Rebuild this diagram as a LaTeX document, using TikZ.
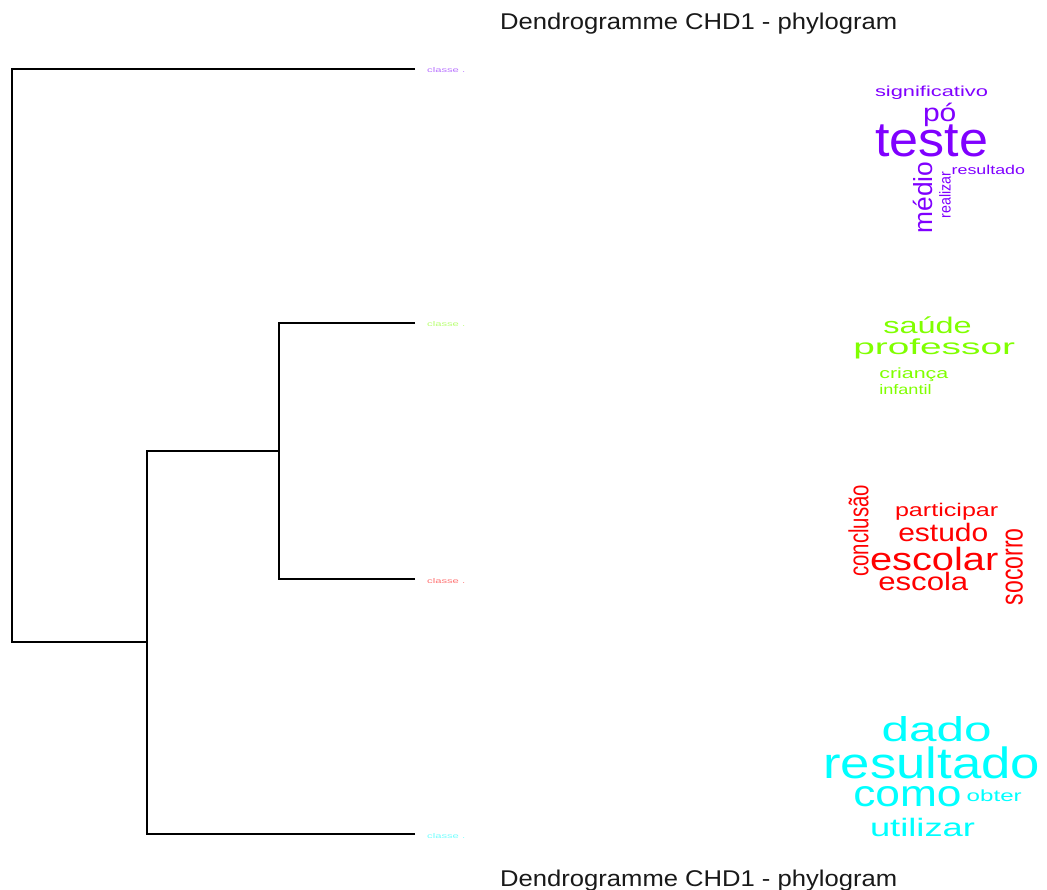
\documentclass[tikz,border=0pt]{standalone}
\usepackage{fontspec}
\setmainfont{Liberation Sans}
\definecolor{cpurple}{HTML}{8000FF}
\definecolor{cgreen}{HTML}{80FF00}
\definecolor{cred}{HTML}{FF0000}
\definecolor{ccyan}{HTML}{00FFFF}
\newcommand{\fitword}[3]{\resizebox{#1pt}{#2pt}{#3}}
\tikzset{
  branch/.style={draw=black, line width=1.5pt},
  word/.style={anchor=base west, inner sep=0pt, outer sep=0pt},
  vword/.style={anchor=base west, inner sep=0pt, outer sep=0pt, rotate=90},
  classlabel/.style={anchor=base west, inner sep=0pt, opacity=0.55},
  titletext/.style={anchor=base west, inner sep=0pt, text=black!90}
}
\begin{document}
\begin{tikzpicture}[x=1pt,y=-1pt]
\useasboundingbox[fill=white] (0,0) rectangle (1047,890);

% titles
\node[titletext] (title) at (500,30) {\fitword{397}{16.5}{Dendrogramme CHD1 - phylogram}};
\node[titletext] (titlebottom) at (500,886) {\fitword{397}{16.5}{Dendrogramme CHD1 - phylogram}};

% dendrogram coordinates
\coordinate (root) at (12,642);
\coordinate (n1) at (147,642);
\coordinate (n2) at (279,451);
\coordinate (c4) at (415,69);
\coordinate (c2) at (415,323);
\coordinate (c1) at (415,579);
\coordinate (c3) at (415,834);

\draw[branch] (c4) -| (root) -- (n1);
\draw[branch] (n2) -| (n1);
\draw[branch] (c3) -| (n1);
\draw[branch] (c2) -| (n2);
\draw[branch] (c1) -| (n2);

% class labels
\node[classlabel, text=cpurple] (lab4) at (427,73) {\fitword{38}{5}{classe .}};
\node[classlabel, text=cgreen] (lab2) at (427,327) {\fitword{38}{5}{classe .}};
\node[classlabel, text=cred] (lab1) at (427,583) {\fitword{38}{5}{classe .}};
\node[classlabel, text=ccyan] (lab3) at (427,838) {\fitword{38}{5}{classe .}};

% purple cloud
\begin{scope}[every node/.append style={text=cpurple}]
\node[word] (w4a) at (875,97) {\fitword{113}{10.5}{significativo}};
\node[word] (w4b) at (923,121.7) {\fitword{33.4}{18.4}{pó}};
\node[word] (w4c) at (875,156.7) {\fitword{113}{31.7}{teste}};
\node[word] (w4d) at (951.7,174.3) {\fitword{73.3}{9.3}{resultado}};
\node[vword] (w4e) at (932.7,233.3) {\fitword{71.7}{19.3}{médio}};
\node[vword] (w4f) at (950.7,218.3) {\fitword{46.7}{11.4}{realizar}};
\end{scope}

% green cloud
\begin{scope}[every node/.append style={text=cgreen}]
\node[word] (w2a) at (883.3,333.3) {\fitword{88.3}{16.7}{saúde}};
\node[word] (w2b) at (853.3,355) {\fitword{161.7}{15.7}{professor}};
\node[word] (w2c) at (879.3,379) {\fitword{69}{10.7}{criança}};
\node[word] (w2d) at (879.3,395) {\fitword{52.3}{10}{infantil}};
\end{scope}

% red cloud
\begin{scope}[every node/.append style={text=cred}]
\node[vword] (w1a) at (868.3,576.7) {\fitword{91.7}{20}{conclusão}};
\node[word] (w1b) at (895,516.7) {\fitword{103.3}{13.3}{participar}};
\node[word] (w1c) at (898.3,541.7) {\fitword{90}{18.3}{estudo}};
\node[word] (w1d) at (870,570) {\fitword{128.3}{23.3}{escolar}};
\node[word] (w1e) at (878.3,590) {\fitword{90}{18.3}{escola}};
\node[vword] (w1f) at (1022.7,605) {\fitword{76.7}{17}{socorro}};
\end{scope}

% cyan cloud
\begin{scope}[every node/.append style={text=ccyan}]
\node[word] (w3a) at (881.7,741.7) {\fitword{110}{25}{dado}};
\node[word] (w3b) at (823.3,778.3) {\fitword{216.7}{31.7}{resultado}};
\node[word] (w3c) at (853.3,806.7) {\fitword{108.3}{20}{como}};
\node[word] (w3d) at (966.7,801.7) {\fitword{55}{11.7}{obter}};
\node[word] (w3e) at (870,836.7) {\fitword{105}{18.3}{utilizar}};
\end{scope}
\end{tikzpicture}
\end{document}
